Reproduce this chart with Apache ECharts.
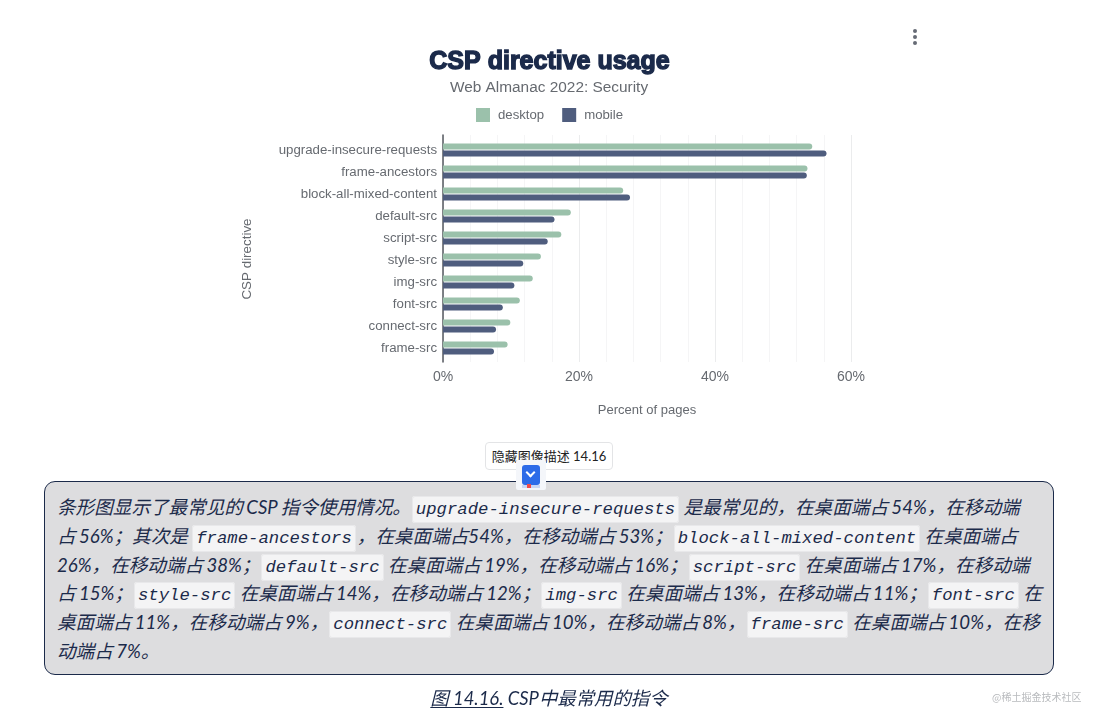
<!DOCTYPE html>
<html><head><meta charset="utf-8">
<script src="https://cdn.jsdelivr.net/npm/echarts@6/dist/echarts.min.js"></script>
<style>
html,body{margin:0;padding:0;background:#fff;width:1098px;height:720px;overflow:hidden}
#c{position:absolute;left:0;top:0;width:1098px;height:720px}
.abs{position:absolute}
#btn{left:485px;top:442px;width:128px;height:28px;border:1px solid #e3e4e6;border-radius:4px;background:#fff;box-sizing:border-box;font:13px/26px Lato,"Noto Sans CJK SC",sans-serif;color:#222;text-align:center}
#box{left:44px;top:481px;width:1010px;height:194px;box-sizing:border-box;background:#dddddf;border:1.5px solid #1b2a4a;border-radius:11px}
.ln{position:absolute;left:57px;white-space:nowrap;font:italic 18.6px/28px Lato,"Noto Sans CJK SC",sans-serif;color:#1b2a4a;word-spacing:-1px}
code{font:italic 17.3px "Liberation Mono",monospace;background:#f4f4f5;border:1px solid #e8e8ea;border-radius:3px;padding:3px 3px;margin:0 1px;color:#1b2a4a;word-spacing:0}
#cap{left:0;width:1098px;top:684px;text-align:center;font:italic 18.4px/28px Lato,"Noto Sans CJK SC",sans-serif;color:#1b2a4a}
#cap u{text-underline-offset:2px}
#wm{left:992px;top:690px;font:10px/14px "Noto Sans CJK SC",sans-serif;color:#b9bbbe}
#ico{left:516px;top:460px;width:30px;height:30px;background:#f4f6fa;border-radius:2px}
#ico i{position:absolute;left:6px;top:5px;width:18px;height:20px;background:#2d6be8;border-radius:3px}
#ico b{position:absolute;left:6px;top:25px;width:18px;height:3px;background:#c8d6f5}
#ico s{position:absolute;left:11px;top:9px;width:7px;height:7px;border:solid #fff;border-width:0 2px 2px 0;transform:rotate(45deg);box-sizing:border-box}
#ico em{position:absolute;left:11px;top:24px;width:4px;height:4px;background:#f04a4a}
.dot{position:absolute;left:913px;width:4px;height:4px;border-radius:50%;background:#666b75}
</style></head><body>
<div id="c"></div>
<div class="dot" style="top:29px"></div><div class="dot" style="top:35px"></div><div class="dot" style="top:41px"></div>
<div id="btn" class="abs">隐藏图像描述 14.16</div>
<div id="box" class="abs"></div>
<div id="ico" class="abs"><i></i><b></b><s></s><em></em></div>
<div class="ln" style="top:493px">条形图显示了最常见的 CSP 指令使用情况。<code>upgrade-insecure-requests</code> 是最常见的，在桌面端占 54%，在移动端</div>
<div class="ln" style="top:522px">占 56%；其次是 <code>frame-ancestors</code>，在桌面端占54%，在移动端占 53%；<code>block-all-mixed-content</code> 在桌面端占</div>
<div class="ln" style="top:551px">26%，在移动端占 38%；<code>default-src</code> 在桌面端占 19%，在移动端占 16%；<code>script-src</code> 在桌面端占 17%，在移动端</div>
<div class="ln" style="top:579px">占 15%；<code>style-src</code> 在桌面端占 14%，在移动端占 12%；<code>img-src</code> 在桌面端占 13%，在移动端占 11%；<code>font-src</code> 在</div>
<div class="ln" style="top:608px">桌面端占 11%，在移动端占 9%，<code>connect-src</code> 在桌面端占 10%，在移动端占 8%，<code>frame-src</code> 在桌面端占 10%，在移</div>
<div class="ln" style="top:637px">动端占 7%。</div>
<div id="cap" class="abs"><u>图 14.16.</u> CSP中最常用的指令</div>
<div id="wm" class="abs">@稀土掘金技术社区</div>
<script>
const categories=['upgrade-insecure-requests','frame-ancestors','block-all-mixed-content','default-src','script-src','style-src','img-src','font-src','connect-src','frame-src'];
const desktop=[54.3,53.6,26.5,18.8,17.4,14.4,13.2,11.3,9.9,9.5];
const mobile=[56.4,53.5,27.5,16.4,15.4,11.8,10.5,8.8,7.8,7.5];
const xTicks=[0,20,40,60];
const font='"Liberation Sans",Arial,sans-serif';
const grey='#666a70';
const chart=echarts.init(document.getElementById('c'),null,{renderer:'canvas'});
chart.setOption({
  animation:false,
  title:[
    {text:'CSP directive usage',left:544.5,top:45,textAlign:'center',textStyle:{fontFamily:font,fontSize:25,fontWeight:'bold',color:'#1b2a4a',textBorderColor:'#1b2a4a',textBorderWidth:1.4}},
    {text:'Web Almanac 2022: Security',left:544,top:75,textAlign:'center',textStyle:{fontFamily:font,fontSize:15.4,fontWeight:'normal',color:grey}}
  ],
  legend:{left:471,top:103,itemWidth:14,itemHeight:14,itemGap:18,icon:'rect',data:['desktop','mobile'],textStyle:{fontFamily:font,fontSize:13.2,color:grey,padding:[0,0,0,3]}},
  grid:[
    {left:443,top:135,width:408,height:227},
    {left:443,top:139,width:408,height:220}
  ],
  xAxis:[
    {gridIndex:0,type:'value',min:xTicks[0],max:xTicks[3],interval:20,
     axisLine:{show:false},axisTick:{show:false},
     axisLabel:{formatter:'{value}%',fontFamily:font,fontSize:14,color:grey,margin:8},
     splitLine:{show:true,lineStyle:{color:'#ebeced',width:1}},
     minorTick:{show:false,splitNumber:5},minorSplitLine:{show:true,lineStyle:{color:'#f5f5f6',width:1}},
     name:'Percent of pages',nameLocation:'middle',nameGap:42,nameTextStyle:{fontFamily:font,fontSize:13,color:grey}},
    {gridIndex:1,type:'value',min:0,max:60,show:false}
  ],
  yAxis:[
    {gridIndex:0,type:'value',min:0,max:1,interval:1,axisLine:{show:true,onZero:false,lineStyle:{color:'#55585f',width:1.5}},axisTick:{show:false},axisLabel:{show:false},splitLine:{show:false}},
    {gridIndex:1,type:'category',inverse:true,data:categories,axisLine:{show:false},axisTick:{show:false},
     axisLabel:{fontFamily:font,fontSize:13.25,color:grey,margin:6},
     name:'CSP directive',nameLocation:'middle',nameGap:189,nameRotate:90,nameTextStyle:{fontFamily:font,fontSize:13.4,color:grey,padding:[0,20,0,0]}}
  ],
  series:[
    {name:'desktop',type:'bar',xAxisIndex:1,yAxisIndex:1,data:desktop,barWidth:6,barGap:'17%',itemStyle:{color:'#9bc1ab',borderRadius:[0,3,3,0]}},
    {name:'mobile',type:'bar',xAxisIndex:1,yAxisIndex:1,data:mobile,barWidth:6,itemStyle:{color:'#4f5d7e',borderRadius:[0,3,3,0]}}
  ]
});
</script>
</body></html>
